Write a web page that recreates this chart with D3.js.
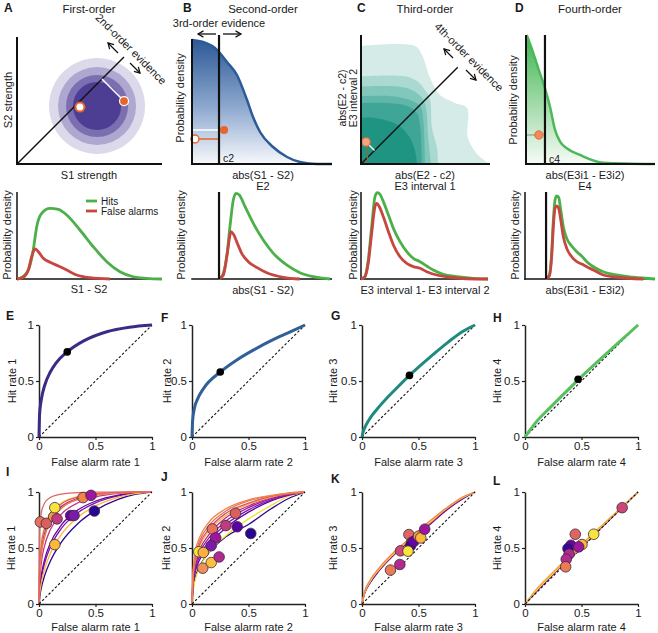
<!DOCTYPE html>
<html><head><meta charset="utf-8">
<script src="https://cdn.jsdelivr.net/npm/d3@7"></script>
<style>body{margin:0;background:#fff}svg{display:block;font-family:"Liberation Sans",Arial,sans-serif}</style>
</head><body><svg id="c" width="658" height="633"></svg>
<script>
// ===================== DATA =====================
// Panel A: first-order 2D distribution (S1 strength, S2 strength)
const aCenter = [5.52, 4.0];
const aContourRadii = [3.31, 2.69, 2.14, 1.66];
const aContourColors = ["#dcd9ea", "#aea7cf", "#7b6fb1", "#4e3e93"];
const aDotWhite = [4.34, 3.93];
const aDotOrange = [7.38, 4.34];
const aDiagEnd = 7.38;

// Panel B: second-order density of abs(S1-S2)
const bX = [0, 0.79, 1.64, 2.5, 3.21, 3.93, 4.36, 4.86, 5.79, 6.79, 7.71, 8.93, 10];
const bY = [0.992, 0.976, 0.928, 0.816, 0.712, 0.512, 0.376, 0.256, 0.136, 0.056, 0.016, 0, 0];
const bC2 = 1.93;
const bDot = [2.29, 0.272];
const bOpenDot = [0.21, 0.2];

// Panel C: third-order 2D density contour levels (outer -> inner)
const cLevelColors = ["#d4ebe7", "#a9d9d1", "#82c7bc", "#5fb6a9", "#3fa596", "#1f9482"];
const cLevels = [
  [[0,9.15],[4.19,9.15],[4.73,8.45],[5.35,6.67],[6.12,5.35],[7.29,4.73],[8.22,4.34],[8.29,2.02],[9.07,0.7],[9.6,0.25],[9.9,0]],
  [[0,6.8],[3.41,6.8],[4.34,6.43],[4.96,5.74],[5.35,4.96],[5.5,2.79],[5.89,1.24],[5.97,0]],
  [[0,6.02],[2.64,6.02],[3.95,5.74],[4.73,5.12],[5.04,4.34],[5.19,2.25],[5.43,0]],
  [[0,5.25],[2.4,5.25],[3.8,4.96],[4.57,4.5],[4.81,3.57],[4.96,0]],
  [[0,4.73],[2.09,4.73],[3.57,4.5],[4.34,3.95],[4.57,3.02],[4.73,0]],
  [[0,3.57],[1.09,3.57],[2.87,3.02],[3.8,2.02],[4.19,1.01],[4.34,0]]
];
const cDot = [0.39, 1.71];
const cDiagEnd = 7.5;

// Panel D: fourth-order density
const dX = [0, 0.05, 0.57, 0.95, 1.47, 1.86, 2.25, 2.64, 3.16, 4.19, 5.99, 10];
const dY = [1, 1, 0.858, 0.742, 0.587, 0.444, 0.264, 0.173, 0.122, 0.07, 0.01, 0];
const dC4 = 1.47;
const dDot = [1.0, 0.225];

// Row 2: Hits / False alarms densities
const a2HitX = [0, 0.21, 0.78, 1.12, 1.36, 1.7, 2.28, 2.85, 3.43, 4.34, 5.26, 6.19, 7.1, 8.02, 8.94, 10];
const a2HitY = [0, 0.008, 0.103, 0.333, 0.601, 0.755, 0.812, 0.801, 0.736, 0.563, 0.371, 0.199, 0.084, 0.026, 0.008, 0];
const a2FaX = [0, 0.43, 0.78, 1.01, 1.24, 1.47, 1.81, 2.28, 2.85, 3.43, 4.12, 5.03, 6.41];
const a2FaY = [0, 0.02, 0.103, 0.256, 0.345, 0.314, 0.238, 0.192, 0.149, 0.103, 0.046, 0.015, 0];
const b2HitX = [1.93, 2.19, 2.48, 2.71, 2.95, 3.14, 3.38, 3.79, 4.38, 5.09, 5.81, 6.76, 7.71, 8.66, 9.86];
const b2HitY = [0, 0.046, 0.256, 0.601, 0.908, 0.985, 0.966, 0.831, 0.64, 0.448, 0.295, 0.161, 0.072, 0.026, 0];
const b2FaX = [1.93, 2.24, 2.52, 2.79, 2.95, 3.24, 3.55, 4.02, 4.62, 5.34, 6.52, 7.71];
const b2FaY = [0, 0.046, 0.295, 0.544, 0.517, 0.41, 0.295, 0.199, 0.134, 0.072, 0.02, 0];
const c2HitX = [0, 0.31, 0.57, 0.84, 1.1, 1.29, 1.5, 1.76, 2.16, 2.55, 3.07, 3.6, 4.12, 4.65, 5.18, 5.69, 6.48, 7.53, 8.84, 10];
const c2HitY = [0, 0.027, 0.218, 0.601, 0.946, 0.992, 0.973, 0.889, 0.736, 0.582, 0.429, 0.314, 0.238, 0.199, 0.149, 0.103, 0.054, 0.027, 0.008, 0];
const c2FaX = [0, 0.31, 0.57, 0.84, 1.1, 1.24, 1.44, 1.76, 2.16, 2.55, 3.07, 3.6, 4.12, 4.65, 5.18, 5.96, 7.01, 8.33, 10];
const c2FaY = [0, 0.027, 0.18, 0.525, 0.831, 0.87, 0.831, 0.716, 0.544, 0.391, 0.256, 0.18, 0.142, 0.123, 0.084, 0.046, 0.02, 0.003, 0];
const d2HitX = [1.59, 1.87, 2.05, 2.18, 2.31, 2.44, 2.59, 2.75, 2.95, 3.21, 3.59, 3.98, 4.36, 4.75, 5.26, 6.02, 7.05, 8.33, 10];
const d2HitY = [0, 0.046, 0.295, 0.678, 0.908, 0.954, 0.939, 0.793, 0.601, 0.467, 0.379, 0.314, 0.264, 0.199, 0.141, 0.084, 0.046, 0.02, 0];
const d2FaX = [1.59, 1.87, 2.05, 2.18, 2.31, 2.44, 2.59, 2.75, 2.95, 3.21, 3.59, 3.98, 4.36, 4.75, 5.26, 6.02, 7.05, 9.1];
const d2FaY = [0, 0.034, 0.256, 0.601, 0.812, 0.839, 0.812, 0.678, 0.486, 0.352, 0.256, 0.199, 0.172, 0.141, 0.103, 0.046, 0.02, 0];
const b2Crit = 1.93;
const d2Crit = 1.62;

// Row 3: model ROC curves
const rocE_F = [0, 0.005, 0.02, 0.05, 0.1, 0.15, 0.25, 0.4, 0.6, 0.8, 1];
const rocE_H = [0, 0.2, 0.33, 0.46, 0.58, 0.66, 0.76, 0.86, 0.94, 0.98, 1];
const rocE_pt = [0.25, 0.76];
const rocF_F = [0, 0.005, 0.02, 0.05, 0.1, 0.25, 0.4, 0.55, 0.7, 0.85, 1];
const rocF_H = [0, 0.14, 0.25, 0.34, 0.43, 0.58, 0.69, 0.78, 0.86, 0.93, 1];
const rocF_pt = [0.25, 0.58];
const rocG_F = [0, 0.01, 0.03, 0.06, 0.16, 0.31, 0.42, 0.61, 0.76, 0.88, 1];
const rocG_H = [0, 0.045, 0.095, 0.15, 0.28, 0.44, 0.55, 0.72, 0.845, 0.935, 1];
const rocG_pt = [0.42, 0.55];
const rocH_F = [0, 0.05, 0.1, 0.22, 0.34, 0.475, 0.64, 0.82, 1];
const rocH_H = [0, 0.07, 0.135, 0.26, 0.38, 0.515, 0.67, 0.835, 1];
const rocH_pt = [0.47, 0.515];

// Row 4: per-participant ROC fits and data
const gridI = [0, 0.005, 0.02, 0.05, 0.1, 0.2, 0.35, 0.5, 0.7, 0.85, 1];
const curveColorsI = ["#2a0593", "#7b1aa8", "#6a00a8", "#fbb83a", "#9c179e", "#c23a80", "#f2844b", "#ee7b51", "#f8e43a", "#dd5e63", "#e16462"];
const curvesI = [
  [0, 0.055, 0.141, 0.253, 0.381, 0.555, 0.724, 0.836, 0.934, 0.978, 1],
  [0, 0.101, 0.225, 0.365, 0.507, 0.677, 0.82, 0.903, 0.966, 0.99, 1],
  [0, 0.118, 0.253, 0.399, 0.543, 0.708, 0.843, 0.918, 0.972, 0.992, 1],
  [0, 0.078, 0.184, 0.312, 0.449, 0.623, 0.779, 0.876, 0.953, 0.986, 1],
  [0, 0.276, 0.47, 0.631, 0.757, 0.872, 0.945, 0.976, 0.994, 0.999, 1],
  [0, 0.19, 0.362, 0.522, 0.662, 0.805, 0.906, 0.955, 0.987, 0.997, 1],
  [0, 0.25, 0.439, 0.6, 0.732, 0.855, 0.935, 0.971, 0.992, 0.998, 1],
  [0, 0.257, 0.447, 0.607, 0.739, 0.86, 0.938, 0.973, 0.993, 0.998, 1],
  [0, 0.339, 0.542, 0.697, 0.81, 0.906, 0.962, 0.985, 0.997, 1, 1],
  [0, 0.317, 0.518, 0.675, 0.793, 0.896, 0.957, 0.982, 0.996, 0.9995, 1],
  [0, 0.642, 0.812, 0.902, 0.951, 0.982, 0.995, 0.998, 0.999, 1, 1]
];
const dotsI_F = [0.012, 0.065, 0.13, 0.16, 0.14, 0.14, 0.39, 0.46, 0.28, 0.31, 0.49];
const dotsI_H = [0.733, 0.72, 0.78, 0.76, 0.86, 0.53, 0.95, 0.97, 0.79, 0.79, 0.83];
const dotsI_C = ["#e8705c", "#d9605f", "#f2944a", "#c23a80", "#f8e43a", "#fbb83a", "#f2844b", "#9c179e", "#6a00a8", "#7b1aa8", "#2a0593"];

const gridJ = [0, 0.01, 0.03, 0.07, 0.15, 0.3, 0.5, 0.7, 0.85, 1];
const curveColorsJ = ["#2a0593", "#f5e12c", "#6a00a8", "#7b1aa8", "#9c179e", "#b12a90", "#fbb83a", "#d5536a", "#e8705c", "#f2844b"];
const curvesJ = [
  [0, 0.14, 0.24, 0.34, 0.46, 0.60, 0.71, 0.85, 0.94, 1],
  [0, 0.12, 0.22, 0.33, 0.46, 0.61, 0.76, 0.88, 0.96, 1],
  [0, 0.17, 0.29, 0.40, 0.53, 0.68, 0.82, 0.92, 0.97, 1],
  [0, 0.19, 0.31, 0.43, 0.56, 0.71, 0.84, 0.93, 0.975, 1],
  [0, 0.21, 0.34, 0.46, 0.59, 0.74, 0.86, 0.94, 0.98, 1],
  [0, 0.23, 0.37, 0.49, 0.62, 0.77, 0.875, 0.95, 0.98, 1],
  [0, 0.25, 0.39, 0.52, 0.65, 0.79, 0.89, 0.955, 0.985, 1],
  [0, 0.26, 0.41, 0.54, 0.67, 0.81, 0.90, 0.96, 0.985, 1],
  [0, 0.28, 0.44, 0.57, 0.70, 0.83, 0.92, 0.965, 0.99, 1],
  [0, 0.30, 0.47, 0.60, 0.73, 0.85, 0.93, 0.97, 0.99, 1]
];
const dotsJ_F = [0.06, 0.10, 0.095, 0.17, 0.18, 0.21, 0.17, 0.24, 0.30, 0.385, 0.40, 0.52];
const dotsJ_H = [0.466, 0.46, 0.32, 0.37, 0.67, 0.59, 0.52, 0.42, 0.70, 0.81, 0.69, 0.63];
const dotsJ_C = ["#f8e43a", "#fbb040", "#f0905a", "#fbc040", "#e8705c", "#9c179e", "#7b1aa8", "#b12a90", "#c23a80", "#d9605f", "#5c02a3", "#2a0593"];

const gridK = [0, 0.02, 0.07, 0.15, 0.3, 0.45, 0.6, 0.75, 0.9, 1];
const curveColorsK = ["#2a0593", "#9c179e", "#cc4778", "#f8e43a", "#f2844b"];
const curvesK = [
  [0, 0.085, 0.185, 0.295, 0.455, 0.585, 0.71, 0.84, 0.945, 1],
  [0, 0.09, 0.19, 0.30, 0.46, 0.59, 0.715, 0.845, 0.95, 1],
  [0, 0.095, 0.195, 0.305, 0.465, 0.595, 0.72, 0.85, 0.952, 1],
  [0, 0.09, 0.20, 0.31, 0.47, 0.60, 0.73, 0.855, 0.955, 1],
  [0, 0.10, 0.21, 0.32, 0.48, 0.61, 0.74, 0.86, 0.96, 1]
];
const dotsK_F = [0.252, 0.335, 0.341, 0.415, 0.44, 0.43, 0.407, 0.46, 0.50, 0.52, 0.555];
const dotsK_H = [0.303, 0.353, 0.475, 0.62, 0.55, 0.52, 0.472, 0.56, 0.605, 0.59, 0.668];
const dotsK_C = ["#ec7a55", "#b12a90", "#cc4778", "#e16462", "#7b1aa8", "#3a0597", "#f8e43a", "#6a00a8", "#f2944a", "#fbb83a", "#9c179e"];

const gridL = [0, 0.1, 0.25, 0.4, 0.55, 0.7, 0.85, 1];
const curveColorsL = ["#6a00a8", "#cc4778", "#f8e43a", "#f2a040"];
const curvesL = [
  [0, 0.11, 0.265, 0.415, 0.56, 0.705, 0.852, 1],
  [0, 0.115, 0.27, 0.42, 0.565, 0.71, 0.855, 1],
  [0, 0.12, 0.275, 0.425, 0.57, 0.715, 0.857, 1],
  [0, 0.13, 0.285, 0.435, 0.58, 0.72, 0.86, 1]
];
const dotsL_F = [0.86, 0.608, 0.504, 0.445, 0.43, 0.406, 0.38, 0.39, 0.475, 0.365, 0.36];
const dotsL_H = [0.86, 0.623, 0.531, 0.623, 0.49, 0.525, 0.495, 0.445, 0.51, 0.40, 0.332];
const dotsL_C = ["#cc4778", "#f8e43a", "#fbb83a", "#e16462", "#f2944a", "#6a00a8", "#3a0597", "#b12a90", "#9c179e", "#b12a90", "#ec7a55"];

const rocTicks = [0, 0.5, 1];

// ===================== DRAWING =====================
const svg = d3.select("#c");
const defs = svg.append("defs");
defs.append("marker").attr("id", "arr").attr("viewBox", "0 0 10 10").attr("refX", 8).attr("refY", 5)
  .attr("markerWidth", 6).attr("markerHeight", 6).attr("orient", "auto")
  .append("path").attr("d", "M1,1 L8,5 L1,9").attr("fill", "none").attr("stroke", "#111").attr("stroke-width", 1.6);

const TXT = "#1a1a1a";
function txt(x, y, s, o = {}) {
  const t = svg.append("text").attr("x", x).attr("y", y).text(s)
    .attr("font-size", o.size || 11).attr("fill", o.fill || TXT)
    .attr("text-anchor", o.anchor || "middle");
  if (o.bold) t.attr("font-weight", "bold");
  if (o.rot != null) t.attr("transform", `rotate(${o.rot},${x},${y})`);
  if (o.dy) t.attr("dy", o.dy);
  return t;
}
function ylab(xc, yc, s, size) { return txt(xc, yc, s, { rot: -90, dy: "0.35em", size: size || 11 }); }
function line(x1, y1, x2, y2, stroke, w, extra) {
  const l = svg.append("line").attr("x1", x1).attr("y1", y1).attr("x2", x2).attr("y2", y2)
    .attr("stroke", stroke).attr("stroke-width", w);
  if (extra) extra(l);
  return l;
}
function frame(x0, x1, y0, y1, w, noY) {
  if (!noY) line(x0, y1, x0, y0 + w / 2, "#111", w);
  line(x0 - w / 2, y0, x1, y0, "#111", w);
}

// panel letters & titles
[["A", 4, "First-order", 89], ["B", 183, "Second-order", 263], ["C", 357, "Third-order", 425], ["D", 515, "Fourth-order", 590]]
  .forEach(([L, lx, T, tx]) => { txt(lx, 12, L, { anchor: "start", bold: true, size: 12 }); txt(tx, 13, T, { size: 11.5 }); });

// ---------- Panel A ----------
{
  const x = d3.scaleLinear().domain([0, 10]).range([17, 162]);
  const y = d3.scaleLinear().domain([0, 8.76]).range([164, 37]);
  const k = x(1) - x(0);
  aContourRadii.forEach((r, i) => svg.append("circle").attr("cx", x(aCenter[0])).attr("cy", y(aCenter[1])).attr("r", r * k).attr("fill", aContourColors[i]));
  line(x(0), y(0), x(aDiagEnd), y(aDiagEnd), "#111", 1.4);
  const foot = (aDotOrange[0] + aDotOrange[1]) / 2;
  line(x(aDotOrange[0]), y(aDotOrange[1]), x(foot), y(foot), "#fff", 1.5);
  svg.append("circle").attr("cx", x(aDotWhite[0])).attr("cy", y(aDotWhite[1])).attr("r", 4.5).attr("fill", "#fff").attr("stroke", "#e8642c").attr("stroke-width", 2);
  svg.append("circle").attr("cx", x(aDotOrange[0])).attr("cy", y(aDotOrange[1])).attr("r", 4.5).attr("fill", "#e8642c").attr("stroke", "#fff").attr("stroke-width", 1.2);
  frame(17, 162, 164, 37, 2);
  line(118, 53, 108, 43, "#111", 1.3, l => l.attr("marker-end", "url(#arr)"));
  line(130, 63, 140, 73, "#111", 1.3, l => l.attr("marker-end", "url(#arr)"));
  txt(131, 49, "2nd-order evidence", { rot: 45, size: 11, dy: "0.35em" });
  ylab(8, 100, "S2 strength");
  txt(89, 179, "S1 strength");
}

// ---------- Panel B ----------
{
  const x = d3.scaleLinear().domain([0, 10]).range([192, 332]);
  const y = d3.scaleLinear().domain([0, 1]).range([164, 39]);
  const g = defs.append("linearGradient").attr("id", "gB").attr("gradientUnits", "userSpaceOnUse").attr("x1", 0).attr("y1", 39).attr("x2", 0).attr("y2", 164);
  g.append("stop").attr("offset", 0).attr("stop-color", "#2b5896");
  g.append("stop").attr("offset", 0.55).attr("stop-color", "#8ea9cf");
  g.append("stop").attr("offset", 1).attr("stop-color", "#f7f9fc");
  const pts = bX.map((v, i) => [v, bY[i]]);
  const area = d3.area().x(d => x(d[0])).y0(y(0)).y1(d => y(d[1])).curve(d3.curveMonotoneX);
  svg.append("path").attr("d", area(pts)).attr("fill", "url(#gB)");
  svg.append("path").attr("d", d3.line().x(d => x(d[0])).y(d => y(d[1])).curve(d3.curveMonotoneX)(pts)).attr("fill", "none").attr("stroke", "#2c5b97").attr("stroke-width", 2.5);
  line(x(0), y(bDot[1]), x(bDot[0]), y(bDot[1]), "#fff", 1.5);
  line(x(bOpenDot[0]), y(bOpenDot[1]), x(bC2), y(bOpenDot[1]), "#e8642c", 1.5);
  svg.append("circle").attr("cx", x(bDot[0])).attr("cy", y(bDot[1])).attr("r", 4).attr("fill", "#e8642c");
  svg.append("circle").attr("cx", x(bOpenDot[0])).attr("cy", y(bOpenDot[1])).attr("r", 4).attr("fill", "#fff").attr("stroke", "#e8642c").attr("stroke-width", 1.5);
  frame(192, 332, 164, 39, 2);
  line(x(bC2), 35, x(bC2), 164, "#111", 2.2);
  txt(x(bC2) + 4, 162, "c2", { anchor: "start", size: 10.5 });
  txt(219, 27, "3rd-order evidence");
  line(216, 34, 198, 34, "#111", 1.3, l => l.attr("marker-end", "url(#arr)"));
  line(223, 34, 241, 34, "#111", 1.3, l => l.attr("marker-end", "url(#arr)"));
  ylab(180, 98, "Probability density");
  txt(263, 179, "abs(S1 - S2)");
  txt(263, 190, "E2");
}

// ---------- Panel C ----------
{
  const x = d3.scaleLinear().domain([0, 10]).range([361, 490]);
  const y = d3.scaleLinear().domain([0, 10]).range([164, 35]);
  const ln = d3.line().x(d => x(d[0])).y(d => y(d[1])).curve(d3.curveCatmullRom.alpha(0.5));
  cLevels.forEach((pts, i) => {
    svg.append("path").attr("d", ln(pts) + `L${x(0)},${y(0)}Z`).attr("fill", cLevelColors[i]);
  });
  line(x(0), y(0), x(cDiagEnd), y(cDiagEnd), "#111", 1.4);
  const foot = (cDot[0] + cDot[1]) / 2;
  line(x(cDot[0]), y(cDot[1]), x(foot), y(foot), "#fff", 1.3);
  line(x(cDot[0]) + 1.5, y(cDot[1]), x(cDot[0]) + 1.5, y(0), "#8a6a3a", 1.3);
  svg.append("circle").attr("cx", x(cDot[0])).attr("cy", y(cDot[1])).attr("r", 4.2).attr("fill", "#f4a582").attr("stroke", "#e0703c").attr("stroke-width", 1.2);
  frame(361, 490, 164, 35, 2);
  line(453, 58, 444, 49, "#111", 1.3, l => l.attr("marker-end", "url(#arr)"));
  line(466, 70, 476, 80, "#111", 1.3, l => l.attr("marker-end", "url(#arr)"));
  txt(469, 57, "4th-order evidence", { rot: 45, dy: "0.35em" });
  ylab(342, 98, "abs(E2 - c2)", 10.5);
  ylab(353, 98, "E3 interval 2", 10.5);
  txt(425, 179, "abs(E2 - c2)");
  txt(425, 190, "E3 interval 1");
}

// ---------- Panel D ----------
{
  const x = d3.scaleLinear().domain([0, 10]).range([526, 655]);
  const y = d3.scaleLinear().domain([0, 1]).range([164, 35]);
  const g = defs.append("linearGradient").attr("id", "gD").attr("gradientUnits", "userSpaceOnUse").attr("x1", 0).attr("y1", 35).attr("x2", 0).attr("y2", 164);
  g.append("stop").attr("offset", 0).attr("stop-color", "#3db450");
  g.append("stop").attr("offset", 0.5).attr("stop-color", "#9bd8a3");
  g.append("stop").attr("offset", 1).attr("stop-color", "#f6fbf6");
  const pts = dX.map((v, i) => [v, dY[i]]);
  svg.append("path").attr("d", d3.area().x(d => x(d[0])).y0(y(0)).y1(d => y(d[1])).curve(d3.curveMonotoneX)(pts)).attr("fill", "url(#gD)");
  svg.append("path").attr("d", d3.line().x(d => x(d[0])).y(d => y(d[1])).curve(d3.curveMonotoneX)(pts.slice(1))).attr("fill", "none").attr("stroke", "#4cb85a").attr("stroke-width", 2.5);
  line(x(0), y(dDot[1]), x(dDot[0]), y(dDot[1]), "#999", 1.2);
  svg.append("circle").attr("cx", x(dDot[0])).attr("cy", y(dDot[1])).attr("r", 4.2).attr("fill", "#f08a5a").attr("stroke", "#e0703c").attr("stroke-width", 1);
  frame(526, 655, 164, 35, 2);
  line(x(dC4), 35, x(dC4), 164, "#111", 2.2);
  txt(x(dC4) + 4, 163, "c4", { anchor: "start", size: 10.5 });
  ylab(513, 100, "Probability density");
  txt(585, 179, "abs(E3i1 - E3i2)");
  txt(585, 190, "E4");
}

// ---------- Row 2 densities ----------
const HIT = "#4cb04a", FA = "#c7463f";
function densityPanel(x0, x1, hx, hy, fx, fy, crit, noYAxis) {
  const x = d3.scaleLinear().domain([0, 10]).range([x0, x1]);
  const y = d3.scaleLinear().domain([0, 1]).range([279, 192]);
  const ln = d3.line().x(d => x(d[0])).y(d => y(d[1])).curve(d3.curveMonotoneX);
  frame(x0, x1, 279, 192, 1.5, noYAxis);
  svg.append("path").attr("d", ln(hx.map((v, i) => [v, hy[i]]))).attr("fill", "none").attr("stroke", HIT).attr("stroke-width", 2.8);
  svg.append("path").attr("d", ln(fx.map((v, i) => [v, fy[i]]))).attr("fill", "none").attr("stroke", FA).attr("stroke-width", 2.8);
  if (crit != null) line(x(crit), 192, x(crit), 279, "#111", 2.2);
}
densityPanel(17, 162, a2HitX, a2HitY, a2FaX, a2FaY, null, false);
densityPanel(192, 332, b2HitX, b2HitY, b2FaX, b2FaY, b2Crit, true);
densityPanel(361, 488, c2HitX, c2HitY, c2FaX, c2FaY, null, false);
densityPanel(525, 655, d2HitX, d2HitY, d2FaX, d2FaY, d2Crit, false);
line(86, 201, 97, 201, HIT, 2.8); txt(101, 204.5, "Hits", { anchor: "start", size: 10 });
line(86, 211, 97, 211, FA, 2.8); txt(101, 214.5, "False alarms", { anchor: "start", size: 10 });
ylab(7, 235, "Probability density");
ylab(181, 235, "Probability density");
ylab(353, 235, "Probability density");
ylab(515, 235, "Probability density");
txt(89, 293, "S1 - S2");
txt(263, 294, "abs(S1 - S2)");
txt(425, 294, "E3 interval 1- E3 interval 2");
txt(585, 294, "abs(E3i1 - E3i2)");

// ---------- ROC panels ----------
const colX = [39, 192, 362, 525];
function rocPanel(ci, yTop, letter, letterXY, ylabel, ylabX, xlabel, xlabY) {
  const x = d3.scaleLinear().domain([0, 1]).range([colX[ci], colX[ci] + 113]);
  const y = d3.scaleLinear().domain([0, 1]).range([yTop + 112, yTop]);
  const ga = svg.append("g").attr("transform", `translate(0,${y(0)})`)
    .call(d3.axisBottom(x).tickValues(rocTicks).tickFormat(d => String(d)).tickSize(3).tickSizeOuter(0).tickPadding(2));
  const gb = svg.append("g").attr("transform", `translate(${x(0)},0)`)
    .call(d3.axisLeft(y).tickValues(rocTicks).tickFormat(d => String(d)).tickSize(3).tickSizeOuter(0).tickPadding(2));
  [ga, gb].forEach(g => {
    g.selectAll("path").attr("stroke", "#222").attr("stroke-width", 1.5);
    g.selectAll("line").attr("stroke", "#222").attr("stroke-width", 1.2);
    g.selectAll("text").attr("font-size", 11.5).attr("fill", TXT).attr("font-family", '"Liberation Sans",Arial,sans-serif');
  });
  txt(letterXY[0], letterXY[1], letter, { anchor: "start", bold: true, size: 12 });
  ylab(ylabX, y(0.5), ylabel);
  txt(x(0.5), xlabY, xlabel);
  return { x, y };
}
function diag(s) { line(s.x(0), s.y(0), s.x(1), s.y(1), "#111", 1.1, l => l.attr("stroke-dasharray", "2.5,2")); }
function modelRoc(s, F, H, pt, color) {
  const ln = d3.line().x(d => s.x(d[0])).y(d => s.y(d[1])).curve(d3.curveMonotoneX);
  diag(s);
  svg.append("path").attr("d", ln(F.map((v, i) => [v, H[i]]))).attr("fill", "none").attr("stroke", color).attr("stroke-width", 3);
  svg.append("circle").attr("cx", s.x(pt[0])).attr("cy", s.y(pt[1])).attr("r", 3.8).attr("fill", "#000");
}
const sE = rocPanel(0, 325, "E", [6, 320], "Hit rate 1", 12, "False alarm rate 1", 466);
modelRoc(sE, rocE_F, rocE_H, rocE_pt, "#3b2a86");
const sF = rocPanel(1, 325, "F", [161, 322], "Hit rate 2", 167, "False alarm rate 2", 466);
modelRoc(sF, rocF_F, rocF_H, rocF_pt, "#2f6097");
const sG = rocPanel(2, 325, "G", [331, 320], "Hit rate 3", 333, "False alarm rate 3", 466);
modelRoc(sG, rocG_F, rocG_H, rocG_pt, "#1f8a7e");
const sH = rocPanel(3, 325, "H", [493, 322], "Hit rate 4", 497, "False alarm rate 4", 466);
modelRoc(sH, rocH_F, rocH_H, rocH_pt, "#55c05e");

function fitRoc(s, grid, curves, colors, dF, dH, dC) {
  const ln = d3.line().x(d => s.x(d[0])).y(d => s.y(d[1])).curve(d3.curveMonotoneX);
  curves.forEach((c, i) => svg.append("path").attr("d", ln(grid.map((v, j) => [v, c[j]]))).attr("fill", "none").attr("stroke", colors[i]).attr("stroke-width", 1.3));
  diag(s);
  dF.forEach((f, i) => svg.append("circle").attr("cx", s.x(f)).attr("cy", s.y(dH[i])).attr("r", 5.3).attr("fill", dC[i]).attr("stroke", "#3a2a3a").attr("stroke-width", 0.8));
}
const sI = rocPanel(0, 492, "I", [6, 476], "Hit rate 1", 11, "False alarm rate 1", 631);
fitRoc(sI, gridI, curvesI, curveColorsI, dotsI_F, dotsI_H, dotsI_C);
const sJ = rocPanel(1, 492, "J", [161, 481], "Hit rate 2", 166, "False alarm rate 2", 631);
fitRoc(sJ, gridJ, curvesJ, curveColorsJ, dotsJ_F, dotsJ_H, dotsJ_C);
const sK = rocPanel(2, 492, "K", [331, 483], "Hit rate 3", 333, "False alarm rate 3", 631);
fitRoc(sK, gridK, curvesK, curveColorsK, dotsK_F, dotsK_H, dotsK_C);
const sL = rocPanel(3, 492, "L", [493, 485], "Hit rate 4", 497, "False alarm rate 4", 631);
fitRoc(sL, gridL, curvesL, curveColorsL, dotsL_F, dotsL_H, dotsL_C);
</script></body></html>
